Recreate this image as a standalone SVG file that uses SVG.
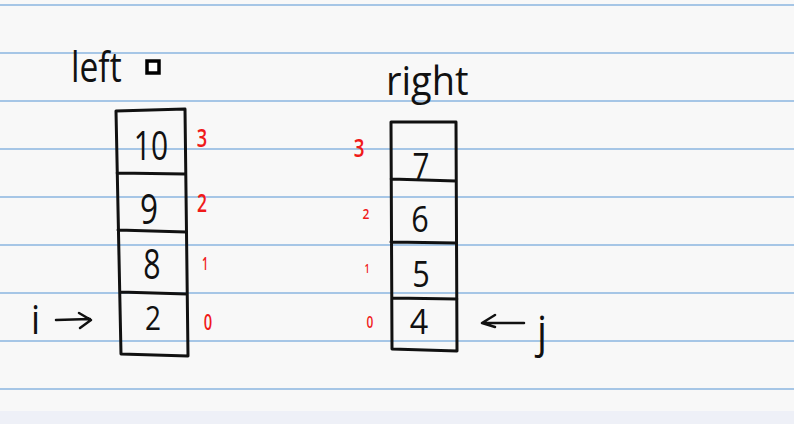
<svg xmlns="http://www.w3.org/2000/svg" width="794" height="424" viewBox="0 0 794 424">
<style>
.rule{stroke:#a6c6e6;stroke-width:2}
.box{fill:none;stroke:#111;stroke-width:3;stroke-linecap:round;stroke-linejoin:round}
.val{font-family:"Open Sans","DejaVu Sans",sans-serif;fill:#111;text-anchor:middle}
.idx{font-family:"Open Sans","DejaVu Sans",sans-serif;font-weight:600;fill:#f01a1a;text-anchor:middle}
.lbl{font-family:"Open Sans","DejaVu Sans",sans-serif;fill:#111}
.arr{fill:none;stroke:#111;stroke-width:2.5;stroke-linecap:round;stroke-linejoin:round}
</style>
<rect width="794" height="424" fill="#f8f8f8"/>
<rect y="411" width="794" height="13" fill="#eef0f7"/>
<g id="rules">
<line class="rule" x1="0" y1="5" x2="794" y2="5"/>
<line class="rule" x1="0" y1="53" x2="794" y2="53"/>
<line class="rule" x1="0" y1="101" x2="794" y2="101"/>
<line class="rule" x1="0" y1="149" x2="794" y2="149"/>
<line class="rule" x1="0" y1="197" x2="794" y2="197"/>
<line class="rule" x1="0" y1="245" x2="794" y2="245"/>
<line class="rule" x1="0" y1="293" x2="794" y2="293"/>
<line class="rule" x1="0" y1="341" x2="794" y2="341"/>
<line class="rule" x1="0" y1="389" x2="794" y2="389"/>
</g>
<g id="left-array">
<text class="lbl" font-size="42" transform="translate(71 82) scale(0.8 1)">left</text>
<rect x="147" y="61" width="12" height="12" fill="#fff" stroke="#000" stroke-width="3.5"/>
<path class="box" d="M116 111 L185 109 L188 356 L121 354 Z M117 173 L185 174 M118 230 L186 232 M120 292 L187 294"/>
<text class="val" font-size="40" transform="translate(151 160) scale(0.75 1)">10</text>
<text class="val" font-size="42" transform="translate(149 224) scale(0.75 1)">9</text>
<text class="val" font-size="42" transform="translate(152 279) scale(0.72 1)">8</text>
<text class="val" font-size="33" transform="translate(153 330) scale(0.85 1)">2</text>
<text class="idx" font-size="26" transform="translate(202 147) scale(0.7 1)">3</text>
<text class="idx" font-size="25" transform="translate(202 212) scale(0.7 1)">2</text>
<text class="idx" font-size="18" transform="translate(205 270) scale(0.6 1)">1</text>
<text class="idx" font-size="21" transform="translate(208 330) scale(0.7 1)">0</text>
</g>
<g id="right-array">
<text class="lbl" font-size="40" transform="translate(386 95) scale(0.95 1)">right</text>
<path class="box" d="M391 122 L456 122 L457 351 L392 349 Z M391 179 L456 181 M391 242 L456 243 M392 298 L457 299"/>
<text class="val" font-size="37" transform="translate(421 179) scale(0.8 1)">7</text>
<text class="val" font-size="36" transform="translate(420 232) scale(0.85 1)">6</text>
<text class="val" font-size="36" transform="translate(421 287) scale(0.85 1)">5</text>
<text class="val" font-size="34" transform="translate(419 334) scale(0.95 1)">4</text>
<text class="idx" font-size="25" transform="translate(359 157) scale(0.75 1)">3</text>
<text class="idx" font-size="15" transform="translate(366 219) scale(0.8 1)">2</text>
<text class="idx" font-size="13" transform="translate(367 273) scale(0.7 1)">1</text>
<text class="idx" font-size="17" transform="translate(370 328) scale(0.7 1)">0</text>
</g>
<g id="pointer-i">
<text class="lbl" font-size="40" transform="translate(31 334) scale(0.9 1)">i</text>
</g>
<g id="pointer-j">
<text class="lbl" font-size="44" transform="translate(537 347) scale(0.9 1)">j</text>
</g>
<g id="connectors">
<path class="arr" d="M56 320 L90 319 M79 313 L91 320 L80 328"/>
<path class="arr" d="M524 323 L483 323 M495 315 L482 323 L495 327"/>
</g>
</svg>
